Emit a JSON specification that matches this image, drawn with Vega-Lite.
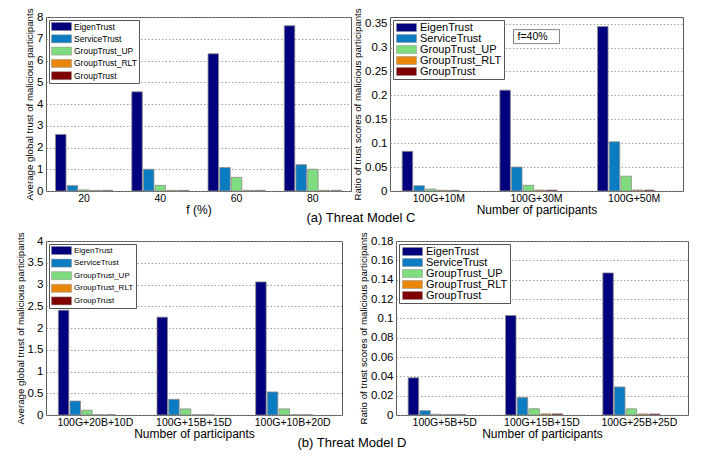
{
  "$schema": "https://vega.github.io/schema/vega-lite/v6.json",
  "background": "white",
  "padding": {"left": 14, "top": 7, "right": 2, "bottom": 0},
  "datasets": {
    "c1": [
      {"x": "20", "m": "EigenTrust", "v": 2.6},
      {"x": "20", "m": "ServiceTrust", "v": 0.25},
      {"x": "20", "m": "GroupTrust_UP", "v": 0.05},
      {"x": "20", "m": "GroupTrust_RLT", "v": 0.03},
      {"x": "20", "m": "GroupTrust", "v": 0.03},
      {"x": "40", "m": "EigenTrust", "v": 4.56},
      {"x": "40", "m": "ServiceTrust", "v": 1.0},
      {"x": "40", "m": "GroupTrust_UP", "v": 0.26},
      {"x": "40", "m": "GroupTrust_RLT", "v": 0.03},
      {"x": "40", "m": "GroupTrust", "v": 0.03},
      {"x": "60", "m": "EigenTrust", "v": 6.31},
      {"x": "60", "m": "ServiceTrust", "v": 1.08},
      {"x": "60", "m": "GroupTrust_UP", "v": 0.63},
      {"x": "60", "m": "GroupTrust_RLT", "v": 0.03},
      {"x": "60", "m": "GroupTrust", "v": 0.03},
      {"x": "80", "m": "EigenTrust", "v": 7.6},
      {"x": "80", "m": "ServiceTrust", "v": 1.21},
      {"x": "80", "m": "GroupTrust_UP", "v": 1.0},
      {"x": "80", "m": "GroupTrust_RLT", "v": 0.03},
      {"x": "80", "m": "GroupTrust", "v": 0.03}
    ],
    "c2": [
      {"x": "100G+10M", "m": "EigenTrust", "v": 0.083},
      {"x": "100G+10M", "m": "ServiceTrust", "v": 0.011},
      {"x": "100G+10M", "m": "GroupTrust_UP", "v": 0.004},
      {"x": "100G+10M", "m": "GroupTrust_RLT", "v": 0.0015},
      {"x": "100G+10M", "m": "GroupTrust", "v": 0.0015},
      {"x": "100G+30M", "m": "EigenTrust", "v": 0.211},
      {"x": "100G+30M", "m": "ServiceTrust", "v": 0.05},
      {"x": "100G+30M", "m": "GroupTrust_UP", "v": 0.012},
      {"x": "100G+30M", "m": "GroupTrust_RLT", "v": 0.002},
      {"x": "100G+30M", "m": "GroupTrust", "v": 0.002},
      {"x": "100G+50M", "m": "EigenTrust", "v": 0.344},
      {"x": "100G+50M", "m": "ServiceTrust", "v": 0.103},
      {"x": "100G+50M", "m": "GroupTrust_UP", "v": 0.031},
      {"x": "100G+50M", "m": "GroupTrust_RLT", "v": 0.002},
      {"x": "100G+50M", "m": "GroupTrust", "v": 0.002}
    ],
    "note": [
      {"x": "100G+30M", "v": 0.323, "label": "f=40%"}
    ],
    "d1": [
      {"x": "100G+20B+10D", "m": "EigenTrust", "v": 2.41},
      {"x": "100G+20B+10D", "m": "ServiceTrust", "v": 0.32},
      {"x": "100G+20B+10D", "m": "GroupTrust_UP", "v": 0.11},
      {"x": "100G+20B+10D", "m": "GroupTrust_RLT", "v": 0.005},
      {"x": "100G+20B+10D", "m": "GroupTrust", "v": 0.005},
      {"x": "100G+15B+15D", "m": "EigenTrust", "v": 2.25},
      {"x": "100G+15B+15D", "m": "ServiceTrust", "v": 0.36},
      {"x": "100G+15B+15D", "m": "GroupTrust_UP", "v": 0.14},
      {"x": "100G+15B+15D", "m": "GroupTrust_RLT", "v": 0.005},
      {"x": "100G+15B+15D", "m": "GroupTrust", "v": 0.005},
      {"x": "100G+10B+20D", "m": "EigenTrust", "v": 3.06},
      {"x": "100G+10B+20D", "m": "ServiceTrust", "v": 0.53},
      {"x": "100G+10B+20D", "m": "GroupTrust_UP", "v": 0.14},
      {"x": "100G+10B+20D", "m": "GroupTrust_RLT", "v": 0.005},
      {"x": "100G+10B+20D", "m": "GroupTrust", "v": 0.005}
    ],
    "d2": [
      {"x": "100G+5B+5D", "m": "EigenTrust", "v": 0.0385},
      {"x": "100G+5B+5D", "m": "ServiceTrust", "v": 0.0045},
      {"x": "100G+5B+5D", "m": "GroupTrust_UP", "v": 0.0008},
      {"x": "100G+5B+5D", "m": "GroupTrust_RLT", "v": 0.0006},
      {"x": "100G+5B+5D", "m": "GroupTrust", "v": 0.0006},
      {"x": "100G+15B+15D", "m": "EigenTrust", "v": 0.103},
      {"x": "100G+15B+15D", "m": "ServiceTrust", "v": 0.018},
      {"x": "100G+15B+15D", "m": "GroupTrust_UP", "v": 0.0065},
      {"x": "100G+15B+15D", "m": "GroupTrust_RLT", "v": 0.0012},
      {"x": "100G+15B+15D", "m": "GroupTrust", "v": 0.0012},
      {"x": "100G+25B+25D", "m": "EigenTrust", "v": 0.147},
      {"x": "100G+25B+25D", "m": "ServiceTrust", "v": 0.029},
      {"x": "100G+25B+25D", "m": "GroupTrust_UP", "v": 0.0064},
      {"x": "100G+25B+25D", "m": "GroupTrust_RLT", "v": 0.0011},
      {"x": "100G+25B+25D", "m": "GroupTrust", "v": 0.0011}
    ]
  },
  "columns": 1,
  "align": "none",
  "spacing": 6,
  "resolve": {"legend": {"color": "independent"}},
  "concat": [
    {
      "title": {"text": "(a)   Threat Model C", "orient": "bottom", "anchor": "start", "dx": 283, "offset": -4, "fontSize": 13, "fontWeight": "normal"},
      "spacing": -1,
      "align": "none",
      "resolve": {"legend": {"color": "independent"}},
      "hconcat": [
        {
          "width": 305,
          "height": 174,
          "data": {"name": "c1"},
          "mark": {"type": "bar", "stroke": "#8c8c8c", "strokeWidth": 0.8},
          "encoding": {
            "x": {"field": "x", "type": "nominal", "sort": ["20", "40", "60", "80"], "scale": {"paddingInner": 0.25, "paddingOuter": 0.125}, "axis": {"title": "f (%)", "labelAngle": 0}},
            "xOffset": {"field": "m", "type": "nominal", "sort": ["EigenTrust", "ServiceTrust", "GroupTrust_UP", "GroupTrust_RLT", "GroupTrust"], "scale": {"paddingInner": 0.1}},
            "y": {"field": "v", "type": "quantitative", "scale": {"domain": [0, 8], "nice": false}, "axis": {"title": "Average global trust of malicious participants", "values": [0, 1, 2, 3, 4, 5, 6, 7, 8], "format": "~g", "minExtent": 10, "maxExtent": 10}},
            "color": {"field": "m", "type": "nominal", "sort": ["EigenTrust", "ServiceTrust", "GroupTrust_UP", "GroupTrust_RLT", "GroupTrust"], "scale": {"domain": ["EigenTrust", "ServiceTrust", "GroupTrust_UP", "GroupTrust_RLT", "GroupTrust"], "range": ["#00007f", "#0b7cc1", "#7fdc7f", "#e8870a", "#7f0000"]}, "legend": {"title": null, "labelFontSize": 8.5, "rowPadding": 1.3}}
          }
        },
        {
          "width": 293,
          "height": 174,
          "encoding": {
            "x": {"field": "x", "type": "nominal", "sort": ["100G+10M", "100G+30M", "100G+50M"], "scale": {"paddingInner": 0.25, "paddingOuter": 0.125}, "axis": {"title": "Number of participants", "labelAngle": 0}},
            "y": {"field": "v", "type": "quantitative", "scale": {"domain": [0, 0.364], "nice": false}, "axis": {"title": "Ratio of trust scores of malicious participants", "values": [0, 0.05, 0.1, 0.15, 0.2, 0.25, 0.3, 0.35], "format": "~g", "minExtent": 26, "maxExtent": 26}}
          },
          "layer": [
            {
              "data": {"name": "c2"},
              "mark": {"type": "bar", "stroke": "#8c8c8c", "strokeWidth": 0.8},
              "encoding": {
                "xOffset": {"field": "m", "type": "nominal", "sort": ["EigenTrust", "ServiceTrust", "GroupTrust_UP", "GroupTrust_RLT", "GroupTrust"], "scale": {"paddingInner": 0.1}},
                "color": {"field": "m", "type": "nominal", "sort": ["EigenTrust", "ServiceTrust", "GroupTrust_UP", "GroupTrust_RLT", "GroupTrust"], "scale": {"domain": ["EigenTrust", "ServiceTrust", "GroupTrust_UP", "GroupTrust_RLT", "GroupTrust"], "range": ["#00007f", "#0b7cc1", "#7fdc7f", "#e8870a", "#7f0000"]}, "legend": {"title": null, "labelFontSize": 11, "rowPadding": -1.4}}
              }
            },
            {
              "data": {"name": "note"},
              "mark": {"type": "point", "shape": "M-1,-0.3043H1V0.3043H-1Z", "size": 2116, "filled": true, "fill": "white", "stroke": "#666", "strokeWidth": 0.8, "opacity": 1}
            },
            {
              "data": {"name": "note"},
              "mark": {"type": "text", "align": "left", "baseline": "middle", "dx": -19, "fontSize": 10.5, "color": "black"},
              "encoding": {"text": {"field": "label"}}
            }
          ]
        }
      ]
    },
    {
      "title": {"text": "(b)   Threat Model D", "orient": "bottom", "anchor": "start", "dx": 283, "offset": -3, "fontSize": 13, "fontWeight": "normal"},
      "spacing": 14,
      "align": "none",
      "resolve": {"legend": {"color": "independent"}},
      "hconcat": [
        {
          "width": 296,
          "height": 174,
          "data": {"name": "d1"},
          "mark": {"type": "bar", "stroke": "#8c8c8c", "strokeWidth": 0.8},
          "encoding": {
            "x": {"field": "x", "type": "nominal", "sort": ["100G+20B+10D", "100G+15B+15D", "100G+10B+20D"], "scale": {"paddingInner": 0.25, "paddingOuter": 0.125}, "axis": {"title": "Number of participants", "labelAngle": 0}},
            "xOffset": {"field": "m", "type": "nominal", "sort": ["EigenTrust", "ServiceTrust", "GroupTrust_UP", "GroupTrust_RLT", "GroupTrust"], "scale": {"paddingInner": 0.1}},
            "y": {"field": "v", "type": "quantitative", "scale": {"domain": [0, 4], "nice": false}, "axis": {"title": "Average global trust of malicious participants", "values": [0, 0.5, 1, 1.5, 2, 2.5, 3, 3.5, 4], "format": "~g", "titlePadding": 1, "minExtent": 20, "maxExtent": 20}},
            "color": {"field": "m", "type": "nominal", "sort": ["EigenTrust", "ServiceTrust", "GroupTrust_UP", "GroupTrust_RLT", "GroupTrust"], "scale": {"domain": ["EigenTrust", "ServiceTrust", "GroupTrust_UP", "GroupTrust_RLT", "GroupTrust"], "range": ["#00007f", "#0b7cc1", "#7fdc7f", "#e8870a", "#7f0000"]}, "legend": {"title": null, "labelFontSize": 8, "rowPadding": 1.6, "offset": 3}}
          }
        },
        {
          "width": 292,
          "height": 174,
          "data": {"name": "d2"},
          "mark": {"type": "bar", "stroke": "#8c8c8c", "strokeWidth": 0.8},
          "encoding": {
            "x": {"field": "x", "type": "nominal", "sort": ["100G+5B+5D", "100G+15B+15D", "100G+25B+25D"], "scale": {"paddingInner": 0.25, "paddingOuter": 0.125}, "axis": {"title": "Number of participants", "labelAngle": 0}},
            "xOffset": {"field": "m", "type": "nominal", "sort": ["EigenTrust", "ServiceTrust", "GroupTrust_UP", "GroupTrust_RLT", "GroupTrust"], "scale": {"paddingInner": 0.1}},
            "y": {"field": "v", "type": "quantitative", "scale": {"domain": [0, 0.18], "nice": false}, "axis": {"title": "Ratio of trust scores of malicious participants", "values": [0, 0.02, 0.04, 0.06, 0.08, 0.1, 0.12, 0.14, 0.16, 0.18], "format": "~g", "minExtent": 26, "maxExtent": 26}},
            "color": {"field": "m", "type": "nominal", "sort": ["EigenTrust", "ServiceTrust", "GroupTrust_UP", "GroupTrust_RLT", "GroupTrust"], "scale": {"domain": ["EigenTrust", "ServiceTrust", "GroupTrust_UP", "GroupTrust_RLT", "GroupTrust"], "range": ["#00007f", "#0b7cc1", "#7fdc7f", "#e8870a", "#7f0000"]}, "legend": {"title": null, "labelFontSize": 11, "rowPadding": -1.4}}
          }
        }
      ]
    }
  ],
  "config": {
    "font": "Liberation Sans",
    "view": {"stroke": "#5a5a5a", "strokeWidth": 1},
    "title": {"font": "Liberation Sans", "color": "black", "fontWeight": "normal"},
    "axis": {
      "labelColor": "black",
      "titleColor": "black",
      "titleFontWeight": "normal",
      "ticks": false,
      "tickSize": 0,
      "domain": false
    },
    "axisX": {"labelFontSize": 10.5, "titleFontSize": 12, "labelPadding": 2, "titlePadding": 1, "grid": false},
    "axisY": {"labelFontSize": 11.5, "titleFontSize": 9.7, "labelPadding": 3, "titlePadding": 2, "grid": true, "gridDash": [1.5, 2], "gridColor": "#8a8a8a", "gridWidth": 0.8},
    "legend": {
      "orient": "top-left",
      "offset": 3,
      "padding": 2,
      "strokeColor": "#555",
      "fillColor": "white",
      "cornerRadius": 0,
      "symbolType": "M-1,-1H4V1H-1Z",
      "symbolSize": 64,
      "symbolStrokeColor": "#8c8c8c",
      "symbolStrokeWidth": 0.5,
      "symbolOpacity": 1,
      "labelColor": "black",
      "labelOffset": 14,
      "labelLimit": 0
    }
  }
}
